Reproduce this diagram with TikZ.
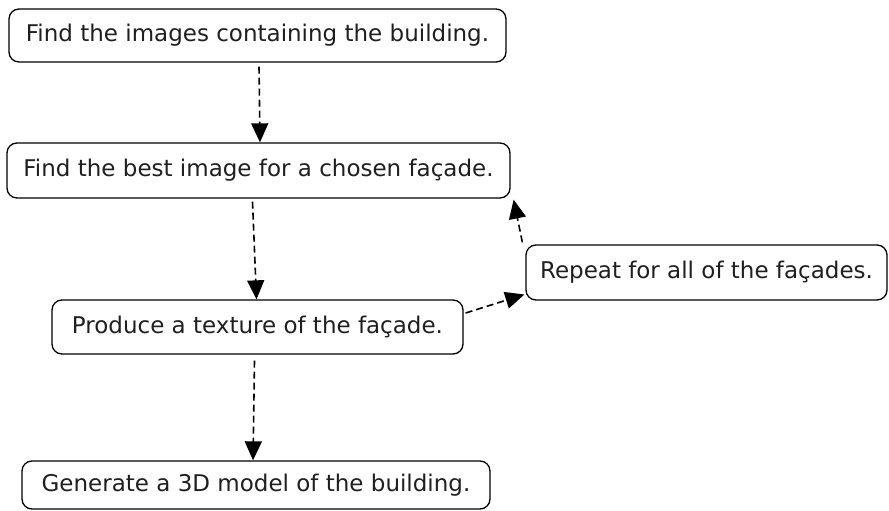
\documentclass[tikz,border=0pt]{standalone}
\usepackage{fontspec}
\setmainfont{DejaVu Sans}
\usetikzlibrary{arrows.meta}
\begin{document}
\begin{tikzpicture}[x=1pt,y=-1pt,
  box/.style={draw=black, line width=1.3pt, rounded corners=10pt, inner sep=0pt,
    font=\fontsize{23}{27}\selectfont, text=black!88},
  flow/.style={draw=black, line width=1.6pt, dash pattern=on 7pt off 4pt,
    -{Triangle[length=19pt,width=17pt]}}]
\useasboundingbox (0,0) rectangle (889,511);
\node[box, minimum width=497pt, minimum height=53pt] (b1) at (257.5,35.5) {Find the images containing the building.};
\node[box, minimum width=503pt, minimum height=55pt] (b2) at (258.5,170.5) {Find the best image for a chosen façade.};
\node[box, minimum width=361pt, minimum height=55pt] (b3) at (706.5,272.5) {Repeat for all of the façades.};
\node[box, minimum width=411pt, minimum height=54pt] (b4) at (257.5,327) {Produce a texture of the façade.};
\node[box, minimum width=468pt, minimum height=48pt] (b5) at (256,485) {Generate a 3D model of the building.};
\draw[flow] ([xshift=1.5pt,yshift=-4pt]b1.south) -- ([xshift=1.5pt]b2.north);
\draw[flow] ([xshift=-6pt,yshift=-3pt]b2.south) -- ([xshift=-1pt]b4.north);
\draw[flow] ([xshift=-3pt,yshift=-6pt]b4.south) -- ([xshift=-3pt]b5.north);
\draw[flow] ([xshift=2pt,yshift=14pt]b4.east) -- ([xshift=-1pt,yshift=-22pt]b3.west);
\draw[flow] ([xshift=-3pt,yshift=2pt]b3.north west) -- ([xshift=3pt,yshift=-1pt]b2.south east);
\end{tikzpicture}
\end{document}
